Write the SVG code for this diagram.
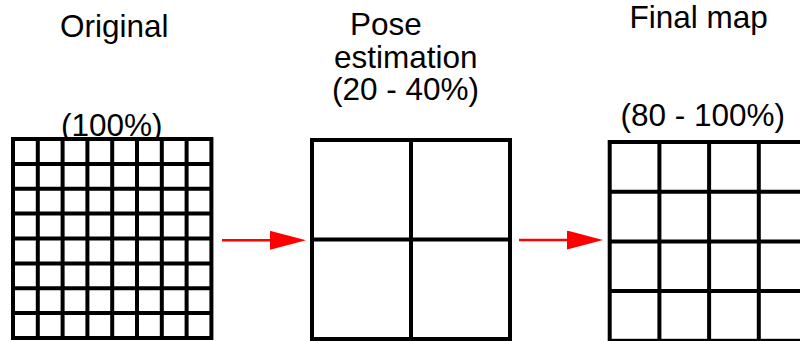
<svg xmlns="http://www.w3.org/2000/svg" width="800" height="341" viewBox="0 0 800 341">
  <style>
    .lbl { font-family: "Liberation Sans", Arial, sans-serif; font-size: 31.5px; fill: #000; }
    .grid { fill: #fff; stroke: #000; stroke-width: 4; }
    .gl { fill: none; stroke: #000; stroke-width: 4; }
    .conn { stroke: #ff0000; stroke-width: 2.5; fill: none; }
  </style>
  <defs>
    <marker id="arrow" markerUnits="userSpaceOnUse" markerWidth="37" markerHeight="20" refX="0" refY="9.5" orient="auto">
      <path d="M0,0 L36,9.5 L0,19 z" fill="#ff0000"/>
    </marker>
  </defs>
  <rect width="800" height="341" fill="#fff"/>

  <g id="original">
    <text class="lbl" x="60" y="37">Original</text>
    <text class="lbl" x="61" y="136">(100%)</text>
    <rect class="grid" x="13" y="139" width="198.4" height="199"/>
    <path class="gl" d="M37.8,139V338M62.6,139V338M87.4,139V338M112.2,139V338M137,139V338M161.8,139V338M186.6,139V338
                        M13,163.9H211.4M13,188.8H211.4M13,213.6H211.4M13,238.5H211.4M13,263.4H211.4M13,288.3H211.4M13,313.1H211.4"/>
  </g>

  <g id="pose">
    <text class="lbl" x="350" y="35">Pose</text>
    <text class="lbl" x="334" y="68">estimation</text>
    <text class="lbl" x="332" y="100">(20 - 40%)</text>
    <rect class="grid" x="312" y="140" width="198" height="199"/>
    <path class="gl" d="M411,140V339M312,239.5H510"/>
  </g>

  <g id="final">
    <text class="lbl" x="629.5" y="28">Final map</text>
    <text class="lbl" x="620.5" y="126">(80 - 100%)</text>
    <rect class="grid" x="609.7" y="142" width="198.8" height="198.8"/>
    <path class="gl" d="M659.4,142V341M709.1,142V341M758.8,142V341M609.7,191.7H808.5M609.7,241.4H808.5M609.7,291.1H808.5"/>
  </g>

  <g id="connectors">
    <line class="conn" x1="222" y1="240.3" x2="270" y2="240.3" marker-end="url(#arrow)"/>
    <line class="conn" x1="519" y1="240" x2="567" y2="240" marker-end="url(#arrow)"/>
  </g>
</svg>
